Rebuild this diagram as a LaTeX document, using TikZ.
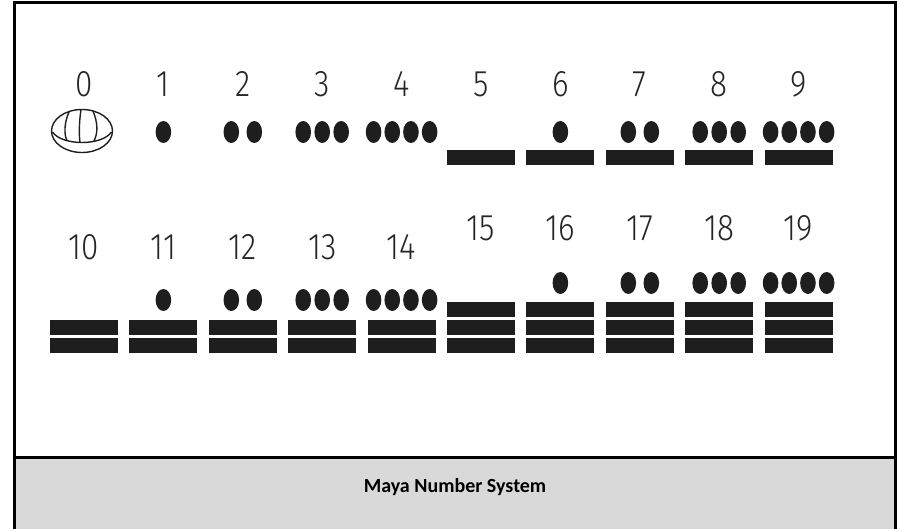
\documentclass[tikz,border=0pt]{standalone}
\usepackage{fontspec}
\usepackage{tikz}
\usetikzlibrary{calc}
\newfontfamily\numfont{Fira Sans}[UprightFont={* Light}, FakeStretch=0.85]
\newfontfamily\capfont{Carlito}
\definecolor{glyph}{HTML}{1E1E1E}
\definecolor{band}{HTML}{D9D9D9}
\tikzset{
  numeral/.style={font=\numfont\fontsize{37}{37}\selectfont, text=black!85, inner sep=0pt},
  bar/.style={fill=glyph},
  pip/.style={fill=glyph},
  shell/.style={draw=glyph, line width=1.4pt},
  frame/.style={line width=3pt, draw=black},
}

\begin{document}
\begin{tikzpicture}[x=1pt,y=-1pt]
\useasboundingbox (0,0) rectangle (897,529);
\clip (0,0) rectangle (897,529);
\fill[band] (16,459) rectangle (894,540);
\draw[frame] (14.5,545) -- (14.5,2.5) -- (895.5,2.5) -- (895.5,545);
\draw[frame] (14.5,457.5) -- (895.5,457.5);
\node[font=\capfont\bfseries\fontsize{20}{20}\selectfont] (caption) at (455,487) {Maya Number System};
\foreach \n in {0,...,19}{
    \pgfmathtruncatemacro\col{mod(\n,10)}
    \pgfmathtruncatemacro\bars{int(\n/5)}
    \pgfmathtruncatemacro\pips{mod(\n,5)}
    \pgfmathsetmacro\cx{84+79.4*\col}
    \pgfmathsetmacro\ny{{84,84,247,228}[\bars]}
    \pgfmathsetmacro\py{{132,132,300,283}[\bars]}
    \pgfmathsetmacro\sp{{0,0,23,19,18.7}[\pips]}
    \pgfmathsetmacro\base{\bars==1 ? 165 : 353}
    \node[numeral] (n\n) at (\cx,\ny) {\n};
    \ifnum\bars>0
        \foreach \k in {1,...,\bars}{
            \fill[bar] (\cx-34,\base-15-18*\k+18) rectangle ++(68,15);
        }
    \fi
    \ifnum\pips>0
        \foreach \k in {1,...,\pips}{
            \fill[pip] (\cx+\k*\sp-\pips*\sp/2-\sp/2,\py) ellipse [x radius=7.8, y radius=11];
        }
    \fi
}
% shell for zero
\coordinate (S) at (82,131);
\draw[shell] (S) ellipse [x radius=30.5, y radius=21.5];
\draw[shell] ($(S)+(-29.5,1)$) .. controls ($(S)+(-20,15)$) and ($(S)+(20,15)$) .. ($(S)+(29.5,1)$);
\draw[shell] ($(S)+(-13,-19)$) .. controls ($(S)+(-18,-8)$) and ($(S)+(-18,4)$) .. ($(S)+(-15,9.5)$);
\draw[shell] ($(S)+(-1,-21.5)$) .. controls ($(S)+(-3,-8)$) and ($(S)+(-3,4)$) .. ($(S)+(-2,11.5)$);
\draw[shell] ($(S)+(11,-20)$) .. controls ($(S)+(16,-8)$) and ($(S)+(16,2)$) .. ($(S)+(12,10)$);
\end{tikzpicture}
\end{document}
